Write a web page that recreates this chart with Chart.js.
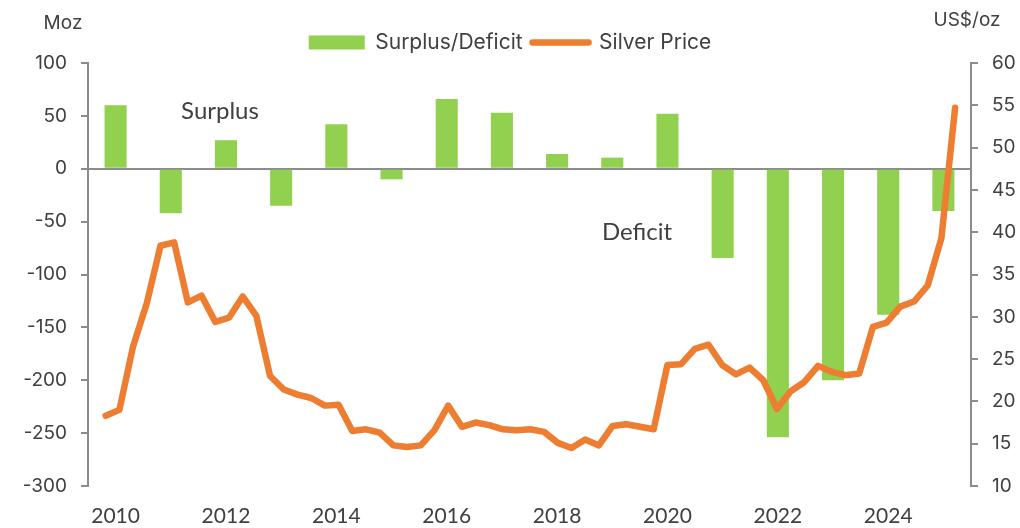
<!DOCTYPE html>
<html>
<head>
<meta charset="utf-8">
<script src="https://cdn.jsdelivr.net/npm/chart.js@4.4.1/dist/chart.umd.min.js"></script>
<style>
  html, body { margin: 0; padding: 0; background: #ffffff; }
  canvas { display: block; }
</style>
</head>
<body>
<canvas id="chart" width="1020" height="528"></canvas>
<script>
// ---- Data ----
const years = ['2010','2011','2012','2013','2014','2015','2016','2017','2018','2019','2020','2021','2022','2023','2024','2025'];
const xTickLabels = ['2010','','2012','','2014','','2016','','2018','','2020','','2022','','2024',''];
const surplusDeficit = [60, -42, 27, -35, 42, -10, 66, 53, 14, 10.5, 52, -84.5, -254, -200, -138, -40];
// quarterly silver price, US$/oz
const silverPrice = [
  18.3, 19.0, 26.5, 31.6, 38.4, 38.8, 31.7, 32.5,
  29.4, 29.9, 32.4, 30.1, 23.0, 21.4, 20.8, 20.4,
  19.5, 19.6, 16.5, 16.7, 16.3, 14.8, 14.6, 14.8,
  16.6, 19.5, 17.0, 17.5, 17.2, 16.7, 16.6, 16.7,
  16.4, 15.1, 14.5, 15.5, 14.8, 17.1, 17.3, 17.0,
  16.7, 24.3, 24.4, 26.2, 26.7, 24.3, 23.2, 24.0,
  22.5, 19.1, 21.2, 22.3, 24.2, 23.5, 23.1, 23.3,
  28.8, 29.3, 31.2, 31.8, 33.7, 39.3, 54.7
];
const leftTicks = { min: -300, max: 100, step: 50 };
const rightTicks = { min: 10, max: 60, step: 5 };

const GREEN = '#92D050';
const ORANGE = '#ED7D31';
const AXIS = '#8c8c8c';
const TEXT = '#404040';

const annotations = {
  id: 'annotations',
  afterDraw(chart) {
    const ctx = chart.ctx;
    ctx.save();
    ctx.fillStyle = TEXT;
    ctx.textBaseline = 'middle';
    ctx.textAlign = 'center';
    ctx.font = '19px Inter, "Noto Sans", sans-serif';
    ctx.fillText('Moz', 63, 23);
    ctx.fillText('US$/oz', 967, 20);
    ctx.font = '24px Lato, "Noto Sans", sans-serif';
    ctx.fillText('Surplus', 220, 111);
    ctx.fillText('Deficit', 637, 232);
    ctx.restore();
  }
};

new Chart(document.getElementById('chart'), {
  data: {
    labels: years,
    datasets: [
      {
        type: 'line',
        label: 'Silver Price',
        data: silverPrice.map((v, i) => ({ x: i, y: v })),
        xAxisID: 'x2',
        yAxisID: 'y2',
        borderColor: ORANGE,
        backgroundColor: ORANGE,
        borderWidth: 6.5,
        borderCapStyle: 'round',
        borderJoinStyle: 'round',
        pointRadius: 0,
        tension: 0
      },
      {
        type: 'bar',
        label: 'Surplus/Deficit',
        data: surplusDeficit,
        xAxisID: 'x',
        yAxisID: 'y',
        backgroundColor: GREEN,
        borderWidth: 0,
        grouped: false,
        categoryPercentage: 0.4,
        barPercentage: 1.0
      }
    ]
  },
  options: {
    responsive: false,
    animation: false,
    devicePixelRatio: 1,
    layout: { padding: { top: 22, left: 0, right: 0, bottom: 0 } },
    plugins: {
      tooltip: { enabled: false },
      legend: {
        position: 'top',
        reverse: true,
        labels: {
          usePointStyle: true,
          pointStyleWidth: 56,
          boxHeight: 14,
          padding: 10,
          color: TEXT,
          font: { family: 'Inter, "Noto Sans", sans-serif', size: 21 },
          generateLabels(chart) {
            return chart.data.datasets.map((ds, i) => ({
              text: ds.label,
              datasetIndex: i,
              fillStyle: ds.type === 'bar' ? GREEN : ORANGE,
              strokeStyle: ds.type === 'bar' ? GREEN : ORANGE,
              lineWidth: ds.type === 'bar' ? 0 : 6.5,
              lineCap: 'round',
              pointStyle: ds.type === 'bar' ? 'rect' : 'line',
              fontColor: TEXT,
              hidden: false
            }));
          }
        }
      }
    },
    scales: {
      x: {
        type: 'category',
        position: 'bottom',
        offset: true,
        grid: { display: false, drawTicks: false },
        border: { display: false },
        ticks: {
          autoSkip: false,
          maxRotation: 0,
          padding: 18,
          color: TEXT,
          font: { family: 'Lato, "Noto Sans", sans-serif', size: 21 },
          callback: (v, i) => xTickLabels[i]
        },
        afterFit: s => { s.height = 42; }
      },
      x2: {
        type: 'linear',
        display: false,
        min: -1.29,
        max: 63.16
      },
      y: {
        type: 'linear',
        position: 'left',
        min: leftTicks.min,
        max: leftTicks.max,
        ticks: {
          stepSize: leftTicks.step,
          padding: 14,
          color: TEXT,
          font: { family: 'Inter, "Noto Sans", sans-serif', size: 19 }
        },
        grid: {
          color: c => (c.tick && c.tick.value === 0) ? AXIS : 'rgba(0,0,0,0)',
          tickColor: AXIS,
          lineWidth: 2,
          tickLength: 7,
          drawTicks: true
        },
        border: { display: true, color: AXIS, width: 2 },
        afterFit: s => { s.width = 88; }
      },
      y2: {
        type: 'linear',
        position: 'right',
        min: rightTicks.min,
        max: rightTicks.max,
        ticks: {
          stepSize: rightTicks.step,
          padding: 14,
          color: TEXT,
          font: { family: 'Inter, "Noto Sans", sans-serif', size: 19 }
        },
        grid: {
          drawOnChartArea: false,
          tickColor: AXIS,
          lineWidth: 2,
          tickLength: 7,
          drawTicks: true
        },
        border: { display: true, color: AXIS, width: 2 },
        afterFit: s => { s.width = 49; }
      }
    }
  },
  plugins: [annotations]
});
</script>
</body>
</html>
